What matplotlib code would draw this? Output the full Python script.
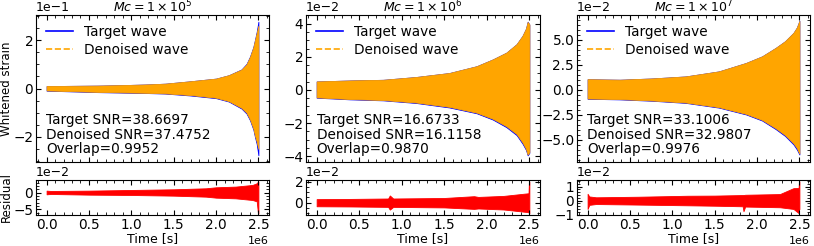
import numpy as np
import matplotlib.pyplot as plt
from matplotlib.lines import Line2D

plt.rcParams['font.size'] = 9.8
plt.rcParams['xtick.direction'] = 'in'
plt.rcParams['ytick.direction'] = 'in'
plt.rcParams['xtick.top'] = True
plt.rcParams['ytick.right'] = True
plt.rcParams['xtick.minor.visible'] = True
plt.rcParams['ytick.minor.visible'] = True
plt.rcParams['xtick.major.size'] = 3.5
plt.rcParams['ytick.major.size'] = 3.5
plt.rcParams['xtick.minor.size'] = 2
plt.rcParams['ytick.minor.size'] = 2
plt.rcParams['xtick.major.pad'] = 2
plt.rcParams['ytick.major.pad'] = 2

titles = [r'$Mc=1\times10^5$', r'$Mc=1\times10^6$', r'$Mc=1\times10^7$']
target_snr = ['38.6697', '16.6733', '33.1006']
denoised_snr = ['37.4752', '16.1158', '32.9807']
overlap = ['0.9952', '0.9870', '0.9976']
strain_scale = [1e-1, 1e-2, 1e-2]

# envelopes of the waves (time in 1e6 s, strain in units of strain_scale)
t1 = [0, 0.3, 0.6, 0.9, 1.2, 1.4, 1.7, 2.0, 2.15, 2.3, 2.36, 2.4, 2.44, 2.46, 2.48, 2.5]
den_up1 = [0.10, 0.11, 0.12, 0.14, 0.17, 0.20, 0.30, 0.41, 0.55, 0.78, 1.0, 1.30, 1.70, 2.00, 2.30, 2.60]
den_lo1 = [-0.08, -0.11, -0.14, -0.16, -0.18, -0.20, -0.27, -0.38, -0.52, -0.80, -1.0, -1.27, -1.65, -1.96, -2.20, -2.50]
tar_up1 = [0.10, 0.11, 0.12, 0.14, 0.17, 0.20, 0.30, 0.41, 0.55, 0.79, 1.02, 1.32, 1.72, 2.03, 2.35, 2.77]
tar_lo1 = [-0.09, -0.12, -0.15, -0.17, -0.19, -0.21, -0.29, -0.40, -0.54, -0.83, -1.04, -1.31, -1.70, -2.02, -2.30, -2.77]

t2 = [0, 0.39, 0.78, 1.17, 1.56, 1.88, 2.07, 2.23, 2.35, 2.42, 2.46, 2.48, 2.5]
den_up2 = [0.51, 0.57, 0.61, 0.78, 1.02, 1.43, 1.84, 2.25, 2.76, 3.27, 3.70, 4.10, 3.95]
den_lo2 = [-0.45, -0.55, -0.61, -0.76, -1.02, -1.37, -1.74, -2.19, -2.66, -3.17, -3.55, -3.90, -3.75]
tar_up2 = [0.51, 0.57, 0.61, 0.78, 1.02, 1.43, 1.84, 2.25, 2.76, 3.27, 3.70, 4.12, 3.95]
tar_lo2 = [-0.47, -0.57, -0.63, -0.79, -1.06, -1.41, -1.79, -2.25, -2.73, -3.25, -3.62, -3.95, -3.80]

t3 = [0, 0.38, 0.77, 1.16, 1.55, 1.87, 2.06, 2.22, 2.33, 2.43, 2.47, 2.5]
den_up3 = [1.05, 1.00, 1.13, 1.33, 1.83, 2.67, 3.33, 4.17, 4.83, 5.67, 6.20, 6.85]
den_lo3 = [-0.87, -0.93, -1.07, -1.27, -1.73, -2.40, -3.00, -3.83, -4.50, -5.33, -5.80, -6.35]
tar_up3 = [1.05, 1.00, 1.13, 1.33, 1.83, 2.67, 3.33, 4.17, 4.83, 5.67, 6.20, 6.88]
tar_lo3 = [-0.90, -0.96, -1.10, -1.31, -1.78, -2.46, -3.07, -3.92, -4.60, -5.45, -5.95, -6.45]

# residual envelopes (strain in 1e-2)
tr1 = [0, 0.05, 0.5, 1.0, 1.5, 1.88, 2.0, 2.23, 2.43, 2.48, 2.495, 2.5]
res_up1 = [0.6, 0.5, 0.6, 0.8, 1.0, 1.3, 1.6, 1.8, 2.3, 2.8, 3.3, 3.3]
res_lo1 = [-0.5, -0.4, -0.6, -0.7, -0.9, -1.2, -1.5, -1.7, -2.2, -2.6, -6.2, -6.2]

tr2 = [0, 0.4, 0.84, 0.86, 0.9, 1.5, 1.85, 1.9, 2.2, 2.44, 2.49, 2.495, 2.5]
res_up2 = [0.34, 0.36, 0.40, 0.69, 0.40, 0.45, 0.62, 0.55, 0.65, 0.86, 0.90, 2.01, 2.01]
res_lo2 = [-0.34, -0.36, -0.40, -0.66, -0.40, -0.45, -0.59, -0.55, -0.65, -0.86, -0.90, -1.02, -1.02]

tr3 = [0, 0.02, 0.1, 0.6, 1.18, 1.5, 1.83, 1.84, 1.86, 2.27, 2.43, 2.49, 2.495, 2.5]
res_up3 = [0.49, 0.30, 0.24, 0.28, 0.35, 0.36, 0.40, 0.40, 0.42, 0.47, 0.89, 0.90, 1.37, 1.37]
res_lo3 = [-0.59, -0.30, -0.24, -0.28, -0.33, -0.36, -0.40, -0.75, -0.42, -0.47, -0.59, -0.88, -0.60, -0.60]

waves = [(t1, tar_up1, tar_lo1, den_up1, den_lo1),
         (t2, tar_up2, tar_lo2, den_up2, den_lo2),
         (t3, tar_up3, tar_lo3, den_up3, den_lo3)]
resids = [(tr1, res_up1, res_lo1), (tr2, res_up2, res_lo2), (tr3, res_up3, res_lo3)]

W, H = 814, 246
fig = plt.figure(figsize=(W / 100, H / 100), dpi=100)
lefts = [36, 306, 577]
widths = [233, 234, 233]

for i in range(3):
    ax = fig.add_axes([lefts[i] / W, 1 - 162 / H, widths[i] / W, 147 / H])
    axr = fig.add_axes([lefts[i] / W, 1 - 215 / H, widths[i] / W, 35 / H], sharex=ax)

    t, tu, tl, du, dl = waves[i]
    t = np.array(t) * 1e6
    s = strain_scale[i]
    ax.fill_between(t, np.array(tl) * s, np.array(tu) * s, color='blue', lw=0.6)
    ax.fill_between(t, np.array(dl) * s, np.array(du) * s, color='orange', lw=0.6)

    handles = [Line2D([], [], color='blue', lw=1.2),
               Line2D([], [], color='orange', lw=1.2, ls='--')]
    ax.legend(handles, ['Target wave', 'Denoised wave'], loc='upper left',
              frameon=False, borderaxespad=0.35, handlelength=2.0,
              labelspacing=0.25, handletextpad=0.8)
    ax.text(0.045, 0.04, f'Target SNR={target_snr[i]}\nDenoised SNR={denoised_snr[i]}\nOverlap={overlap[i]}',
            transform=ax.transAxes, ha='left', va='bottom', linespacing=1.05)
    ax.set_title(titles[i], pad=1, fontsize=9)
    ax.ticklabel_format(style='sci', axis='y', scilimits=(0, 0))
    ax.yaxis.get_offset_text().set_fontsize(9)
    ax.tick_params(labelbottom=False)
    if i == 2:
        ax.set_ylim(-7.2e-2, 7.45e-2)
        ax.set_yticks([-5e-2, -2.5e-2, 0, 2.5e-2, 5e-2])

    tr, ru, rl = resids[i]
    tr = np.array(tr) * 1e6
    axr.fill_between(tr, np.array(rl) * 1e-2, np.array(ru) * 1e-2, color='red', lw=0.6)
    axr.ticklabel_format(style='sci', axis='both', scilimits=(0, 0))
    axr.yaxis.get_offset_text().set_fontsize(9)
    axr.xaxis.get_offset_text().set_fontsize(8)
    axr.set_xticks([0, 0.5e6, 1e6, 1.5e6, 2e6, 2.5e6])
    axr.set_xlabel('Time [s]', labelpad=0, fontsize=9)
    if i == 2:
        axr.set_ylim(-1.02e-2, 1.47e-2)
    if i == 0:
        ax.set_ylabel('Whitened strain', labelpad=0.5, fontsize=8.5)
        axr.set_ylabel('Residual', labelpad=0.5, fontsize=8.5)

fig.savefig('out.png', dpi=100)
